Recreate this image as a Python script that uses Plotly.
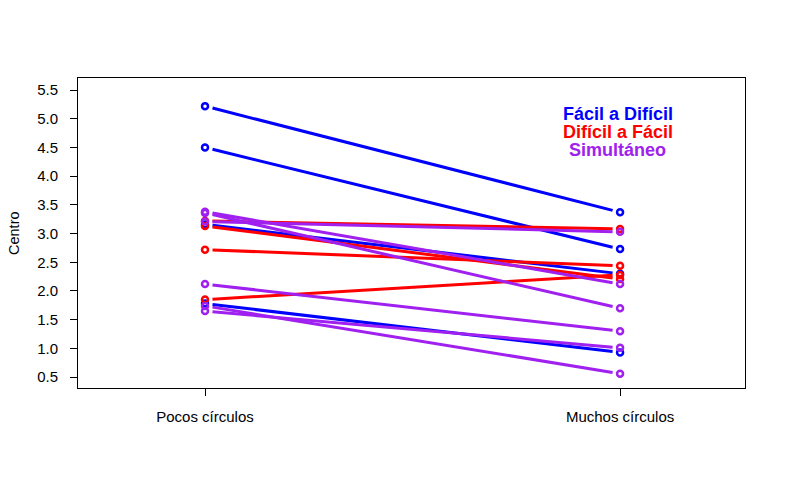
import plotly.graph_objects as go

# Datos (Centro por condición)
categorias = ["Pocos círculos", "Muchos círculos"]

facil_dificil_pocos = [5.22, 4.50, 3.16, 1.78]
facil_dificil_muchos = [3.37, 2.73, 2.30, 0.93]

dificil_facil_pocos = [3.22, 3.13, 2.72, 1.85]
dificil_facil_muchos = [3.08, 2.21, 2.44, 2.28]

simultaneo_pocos = [3.38, 3.36, 3.21, 2.12, 1.74, 1.65]
simultaneo_muchos = [2.12, 1.70, 3.03, 1.30, 0.56, 1.01]

grupos = [
    ("Fácil a Difícil", facil_dificil_pocos, facil_dificil_muchos, "#0000FF"),
    ("Difícil a Fácil", dificil_facil_pocos, dificil_facil_muchos, "#FF0000"),
    ("Simultáneo", simultaneo_pocos, simultaneo_muchos, "#A020F0"),
]

xpos = [1, 2]
gap = 0.018  # hueco entre punto y línea (estilo type="b" de R)

fig = go.Figure()

for nombre, pocos, muchos, color in grupos:
    for a, b in zip(pocos, muchos):
        # líneas recortadas cerca de los puntos
        x0, x1 = xpos[0] + gap, xpos[1] - gap
        y0 = a + (b - a) * gap
        y1 = b - (b - a) * gap
        fig.add_trace(go.Scatter(x=[x0, x1], y=[y0, y1], mode="lines",
                                 line=dict(color=color, width=3),
                                 showlegend=False, hoverinfo="skip"))
    for a, b in zip(pocos, muchos):
        fig.add_trace(go.Scatter(x=xpos, y=[a, b], mode="markers",
                                 marker=dict(symbol="circle-open", size=6,
                                             color=color, line=dict(width=2.5, color=color)),
                                 showlegend=False, name=nombre))

# leyenda como texto
leyenda_y = [5.08, 4.77, 4.45]
for (nombre, _, _, color), yy in zip(grupos, leyenda_y):
    fig.add_annotation(x=1.995, y=yy, xref="x", yref="y", text="<b>%s</b>" % nombre,
                       showarrow=False, font=dict(color=color, size=18),
                       xanchor="center", yanchor="middle")

fig.add_annotation(x=0, y=0.5, xref="paper", yref="paper", text="Centro",
                   showarrow=False, textangle=-90, xshift=-64,
                   font=dict(size=14.5, color="black"), xanchor="center", yanchor="middle")

fig.update_xaxes(range=[0.694, 2.301], tickvals=xpos, ticktext=categorias,
                 showgrid=False, zeroline=False, showline=True, linecolor="black",
                 linewidth=1, mirror=True, ticks="outside", ticklen=7, tickcolor="black",
                 ticklabelstandoff=8, tickfont=dict(size=15, color="black"))
fig.update_yaxes(range=[0.31, 5.71], tickvals=[0.5, 1, 1.5, 2, 2.5, 3, 3.5, 4, 4.5, 5, 5.5],
                 ticktext=["0.5", "1.0", "1.5", "2.0", "2.5", "3.0", "3.5", "4.0", "4.5", "5.0", "5.5"],
                 showgrid=False, zeroline=False, showline=True, linecolor="black",
                 linewidth=1, mirror=True, ticks="outside", ticklen=7, tickcolor="black",
                 ticklabelstandoff=9, tickfont=dict(size=15, color="black"))

fig.update_layout(width=788, height=485, plot_bgcolor="white", paper_bgcolor="white",
                  margin=dict(l=70, r=51, t=70, b=105),
                  font=dict(family="Liberation Sans, Arial, sans-serif", color="black"))

fig.write_html("out.html")
